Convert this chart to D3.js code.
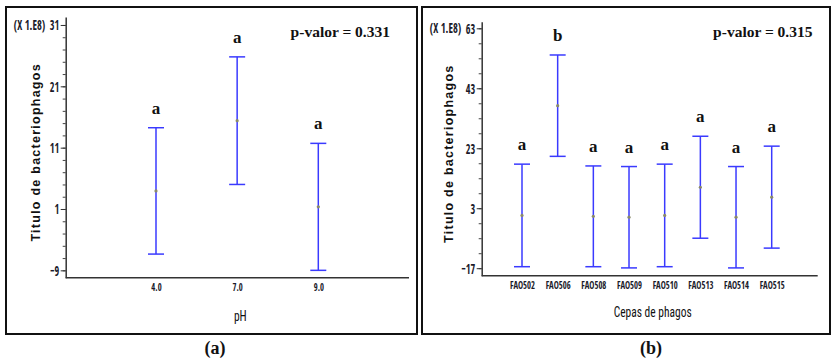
<!DOCTYPE html>
<html>
<head>
<meta charset="utf-8">
<script src="https://cdn.jsdelivr.net/npm/d3@7"></script>
<style>
  body { margin: 0; background: #fff; }
  svg { display: block; }
  .narrow { font-family: "Open Sans Condensed", "Roboto Condensed", "Liberation Sans", Arial, sans-serif; font-weight: bold; }
  .narrowReg { font-family: "Roboto Condensed", "Open Sans Condensed", "Liberation Sans", Arial, sans-serif; }
</style>
</head>
<body>
<svg id="chart" width="836" height="360"></svg>
<script>
// ---- Data: panel (a) pH ----
const phCategories = ["4.0", "7.0", "9.0"];
const phMeans = [3.95, 15.4, 1.35];
const phHalfWidths = [10.3, 10.4, 10.35];
const phLetters = ["a", "a", "a"];
const phMajorTicks = [-9, 1, 11, 21, 31];
const phMinorTicks = [-9, -7, -5, -3, -1, 1, 3, 5, 7, 9, 11, 13, 15, 17, 19, 21, 23, 25, 27, 29, 31];
const phPValue = "p-valor = 0.331";

// ---- Data: panel (b) phage strains ----
const strainCategories = ["FAO502", "FAO506", "FAO508", "FAO509", "FAO510", "FAO513", "FAO514", "FAO515"];
const strainMeans = [0.6, 37.2, 0.3, 0.0, 0.6, 10.0, 0.0, 6.7];
const strainHalfWidths = [17.1, 16.9, 16.8, 16.9, 17.1, 17.0, 16.9, 17.0];
const strainLetters = ["a", "b", "a", "a", "a", "a", "a", "a"];
const strainMajorTicks = [-17, 3, 23, 43, 63];
const strainMinorTicks = [-17, -12, -7, -2, 3, 8, 13, 18, 23, 28, 33, 38, 43, 48, 53, 58, 63];
const strainPValue = "p-valor = 0.315";

const svg = d3.select("#chart");

// squeeze text horizontally to imitate a narrower face (keeps real text)
function condense(sel, f) {
  sel.each(function () {
    const el = d3.select(this);
    const w = this.getComputedTextLength() * f;
    const anchor = getComputedStyle(this).textAnchor;
    const x0 = +el.attr("x") || 0;
    let nx = x0;
    if (anchor === "end") nx = x0 - w;
    else if (anchor === "middle") nx = x0 - w / 2;
    el.attr("x", nx).style("text-anchor", "start")
      .attr("textLength", w).attr("lengthAdjust", "spacingAndGlyphs");
  });
}

const panels = [
  {
    frame: [6, 7, 411, 327],
    left: 65.7, right: 409, top: 17, bottom: 277.7,
    yDomain: [-10.2, 32.3],
    xPad: [90.3, 90.7],
    cats: phCategories, means: phMeans, hw: phHalfWidths, letters: phLetters,
    major: phMajorTicks, minor: phMinorTicks, pval: phPValue, pvalX: 390,
    yTitleX: 36, xTitle: "pH", xTitleY: 321, caption: "(a)", captionX: 215
  },
  {
    frame: [422, 7, 408, 327],
    left: 481.7, right: 817.7, top: 21.7, bottom: 275.7,
    yDomain: [-19.5, 65.2],
    xPad: [40.3, 46],
    cats: strainCategories, means: strainMeans, hw: strainHalfWidths, letters: strainLetters,
    major: strainMajorTicks, minor: strainMinorTicks, pval: strainPValue, pvalX: 812.5,
    yTitleX: 449, xTitle: "Cepas de phagos", xTitleY: 317, caption: "(b)", captionX: 651
  }
];

panels.forEach(p => {
  const g = svg.append("g");
  // frame
  g.append("rect")
    .attr("x", p.frame[0]).attr("y", p.frame[1])
    .attr("width", p.frame[2]).attr("height", p.frame[3])
    .attr("fill", "#fff").attr("stroke", "#111").attr("stroke-width", 2);

  const y = d3.scaleLinear().domain(p.yDomain).range([p.bottom, p.top]);
  const x = d3.scalePoint().domain(p.cats).range([p.left + p.xPad[0], p.right - p.xPad[1]]);

  // minor ticks
  const minorAxis = g.append("g").attr("transform", `translate(${p.left},0)`)
    .call(d3.axisLeft(y).tickValues(p.minor).tickSize(3).tickFormat(""));
  minorAxis.select(".domain").remove();
  minorAxis.selectAll("line").attr("stroke", "#444");

  // major ticks + labels
  const yAxis = g.append("g").attr("transform", `translate(${p.left},0)`)
    .call(d3.axisLeft(y).tickValues(p.major).tickSize(5).tickPadding(1.5).tickSizeOuter(0));
  yAxis.select(".domain").attr("stroke", "#333").attr("stroke-width", 1.5);
  yAxis.selectAll("line").attr("stroke", "#333");
  yAxis.selectAll("text")
    .attr("class", "narrow")
    .attr("font-size", 15).attr("fill", "#1a1a2a")
    .call(condense, 0.68);

  // multiplier label
  g.append("text").attr("class", "narrow")
    .attr("x", p.left - 20.5).attr("y", y(p.major[p.major.length - 1]))
    .attr("dy", "0.32em").attr("text-anchor", "end")
    .attr("font-size", 15).attr("fill", "#1a1a2a")
    .text("(X 1.E8)")
    .call(condense, 0.7);

  // x axis line
  const xAxis = g.append("g").attr("transform", `translate(0,${p.bottom})`)
    .call(d3.axisBottom(x).tickSize(0).tickPadding(6));
  xAxis.select(".domain")
    .attr("d", `M${p.left},0H${p.right}`)
    .attr("stroke", "#333").attr("stroke-width", 1.5);
  xAxis.selectAll("text")
    .attr("class", "narrow")
    .attr("font-size", 11).attr("fill", "#1a1a2a")
    .call(condense, 0.78);

  // error bars
  const bars = g.selectAll(".bar").data(p.cats.map((c, i) => ({
    c, mean: p.means[i], lo: p.means[i] - p.hw[i], hi: p.means[i] + p.hw[i], letter: p.letters[i]
  }))).join("g");
  const blue = "#3a3aff";
  bars.append("line")
    .attr("x1", d => x(d.c)).attr("x2", d => x(d.c))
    .attr("y1", d => y(d.lo)).attr("y2", d => y(d.hi))
    .attr("stroke", blue).attr("stroke-width", 1.5);
  ["hi", "lo"].forEach(k => {
    bars.append("line")
      .attr("x1", d => x(d.c) - 8).attr("x2", d => x(d.c) + 8)
      .attr("y1", d => y(d[k])).attr("y2", d => y(d[k]))
      .attr("stroke", blue).attr("stroke-width", 1.5);
  });
  bars.append("circle")
    .attr("cx", d => x(d.c)).attr("cy", d => y(d.mean)).attr("r", 1.6)
    .attr("fill", "#8a8a6a");
  bars.append("text")
    .attr("x", d => x(d.c)).attr("y", d => y(d.hi) - 14)
    .attr("text-anchor", "middle")
    .attr("font-family", "'Liberation Serif', 'DejaVu Serif', serif")
    .attr("font-weight", "bold").attr("font-size", 17).attr("fill", "#111")
    .text(d => d.letter);

  // p-value
  g.append("text")
    .attr("x", p.pvalX).attr("y", 37).attr("text-anchor", "end")
    .attr("font-family", "'Liberation Serif', 'DejaVu Serif', serif")
    .attr("font-weight", "bold").attr("font-size", 15.5).attr("fill", "#111")
    .text(p.pval);

  // y title
  g.append("text")
    .attr("transform", `translate(${p.yTitleX},${(p.top + p.bottom) / 2 + 5}) rotate(-90)`)
    .attr("text-anchor", "middle").attr("dy", "0.35em")
    .attr("font-family", "'Liberation Sans', Arial, sans-serif")
    .attr("font-weight", "bold").attr("font-size", 12.5).attr("letter-spacing", 1.25)
    .attr("fill", "#111")
    .text("Titulo de bacteriophagos");

  // x title
  g.append("text").attr("class", "narrowReg")
    .attr("x", (p.left + p.right) / 2 + 3).attr("y", p.xTitleY)
    .attr("text-anchor", "middle").attr("font-size", 14).attr("fill", "#111")
    .text(p.xTitle)
    .call(condense, 0.82);

  // caption
  svg.append("text")
    .attr("x", p.captionX).attr("y", 354).attr("text-anchor", "middle")
    .attr("font-family", "'Liberation Serif', 'DejaVu Serif', serif")
    .attr("font-weight", "bold").attr("font-size", 18).attr("fill", "#111")
    .text(p.caption);
});
</script>
</body>
</html>
